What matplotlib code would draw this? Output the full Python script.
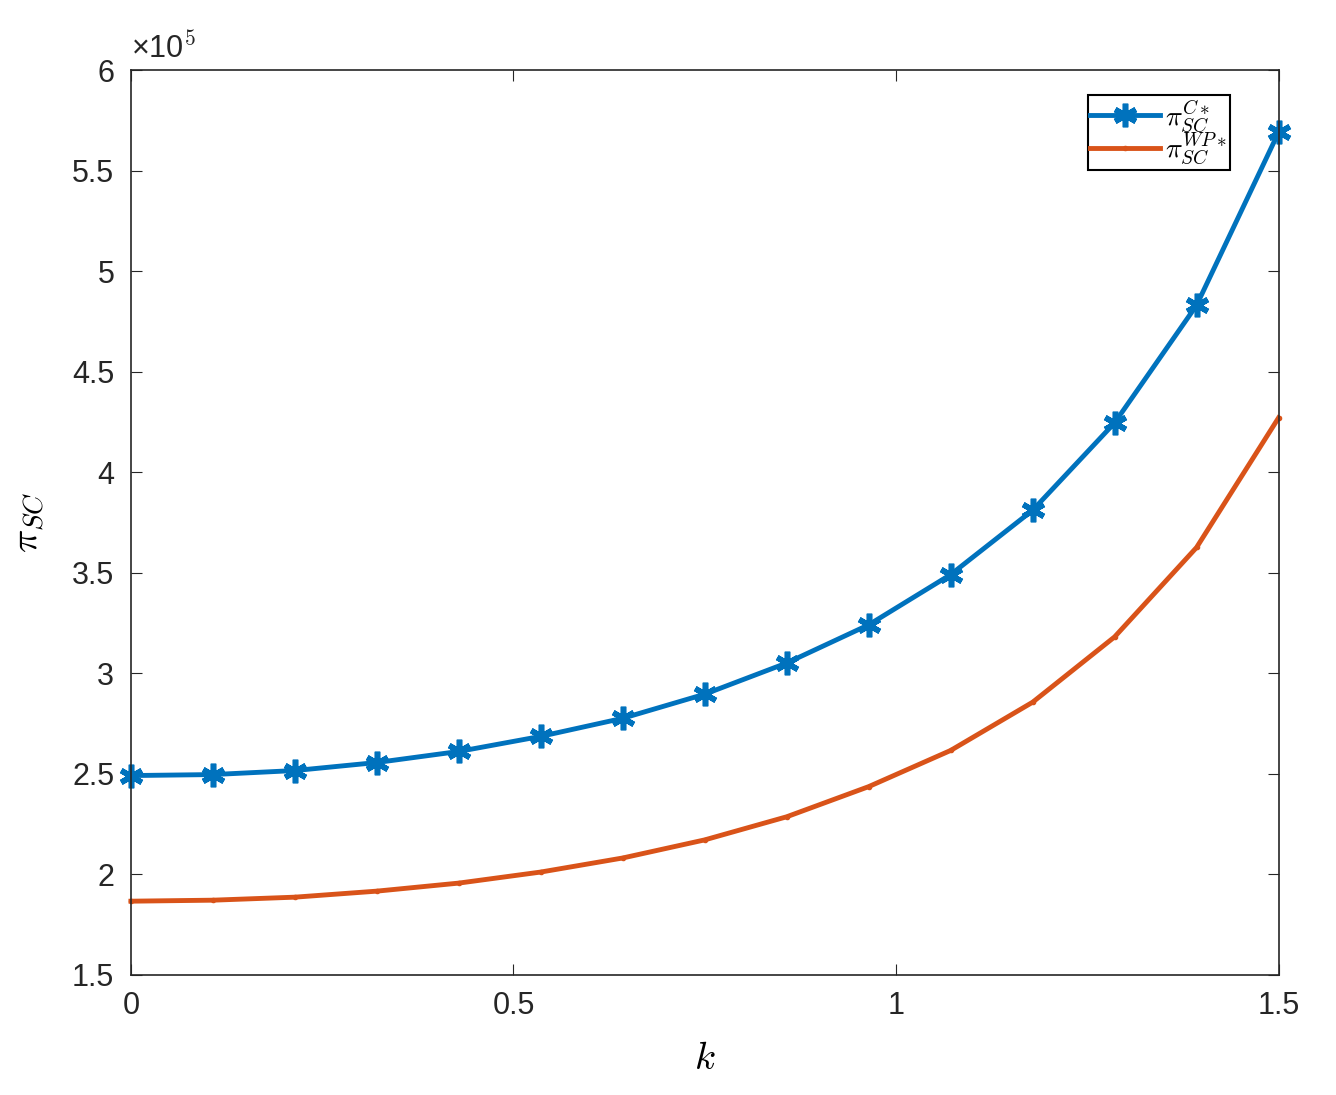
import numpy as np
import matplotlib
matplotlib.use('Agg')
import matplotlib.pyplot as plt
from matplotlib.ticker import FuncFormatter

plt.rcParams['font.family'] = ['Liberation Sans', 'DejaVu Sans']
plt.rcParams['mathtext.fontset'] = 'cm'

k = np.linspace(0, 1.5, 15)
pi_c = [2.49, 2.495, 2.515, 2.555, 2.61, 2.685, 2.775, 2.895, 3.05, 3.24,
        3.49, 3.81, 4.245, 4.83, 5.69]
pi_wp = [1.865, 1.87, 1.885, 1.915, 1.955, 2.01, 2.08, 2.17, 2.285, 2.435,
         2.615, 2.855, 3.18, 3.625, 4.27]

fig = plt.figure(figsize=(13.36, 10.95), dpi=100)
ax = fig.add_axes([0.098, 0.110, 0.859, 0.826])

ax.plot(k, pi_c, color='#0072BD', lw=3.5, marker=(6, 2, 0), ms=17, mew=4,
        clip_on=False, label=r'$\pi_{SC}^{C*}$')
ax.plot(k, pi_wp, color='#D95319', lw=3.5, marker='.', ms=6,
        clip_on=False, label=r'$\pi_{SC}^{WP*}$')

ax.set_xlim(0, 1.5)
ax.set_ylim(1.5, 6)
ax.set_xticks([0, 0.5, 1, 1.5])
ax.set_yticks(np.arange(1.5, 6.01, 0.5))
ax.xaxis.set_major_formatter(FuncFormatter(lambda v, p: f'{v:g}'))
ax.yaxis.set_major_formatter(FuncFormatter(lambda v, p: f'{v:g}'))
ax.tick_params(labelsize=22, direction='in', length=8, top=True, right=True,
               colors='#262626', pad=12)
for s in ax.spines.values():
    s.set_color('#262626')
    s.set_linewidth(1.2)
ax.text(0.0, 1.005, r'×10$^5$', transform=ax.transAxes, fontsize=22,
        va='bottom', ha='left', color='#262626')

ax.set_xlabel(r'$k$', fontsize=28, labelpad=14)
ax.set_ylabel(r'$\pi_{SC}$', fontsize=28, labelpad=18)

leg = ax.legend(loc='upper right', bbox_to_anchor=(0.958, 0.972), fontsize=20,
                fancybox=False, edgecolor='black', framealpha=1,
                handlelength=2.5, handletextpad=0.2, borderpad=0.1,
                labelspacing=-0.1, borderaxespad=0)
leg.get_frame().set_linewidth(1.5)

fig.savefig('out.png', dpi=100)
